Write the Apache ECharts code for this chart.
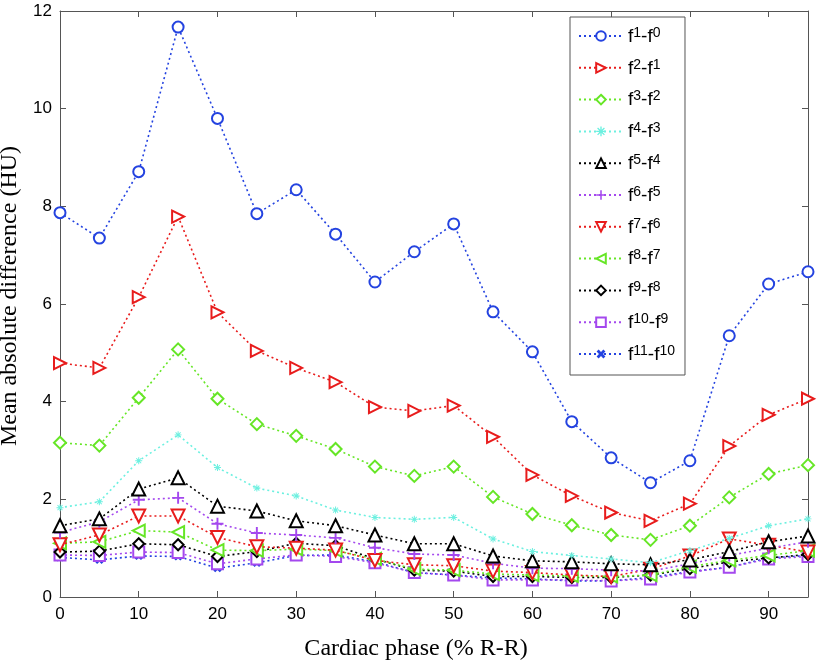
<!DOCTYPE html>
<html><head><meta charset="utf-8">
<script src="https://cdn.jsdelivr.net/npm/echarts@6/dist/echarts.min.js"></script>
<style>html,body{margin:0;padding:0;background:#fff}#c{width:817px;height:667px}</style>
</head><body><div id="c"></div>
<script>
const phases = [0,5,10,15,20,25,30,35,40,45,50,55,60,65,70,75,80,85,90,95];
const d1  = [7.87,7.35,8.71,11.67,9.80,7.85,8.34,7.43,6.45,7.07,7.64,5.84,5.02,3.59,2.85,2.34,2.79,5.35,6.41,6.66];
const d2  = [4.79,4.69,6.14,7.79,5.83,5.04,4.69,4.40,3.89,3.81,3.92,3.28,2.50,2.07,1.73,1.56,1.91,3.09,3.73,4.06];
const d3  = [3.16,3.10,4.08,5.07,4.06,3.54,3.30,3.03,2.67,2.48,2.67,2.05,1.70,1.47,1.27,1.17,1.46,2.04,2.52,2.70];
const d4  = [1.83,1.95,2.79,3.32,2.65,2.23,2.07,1.78,1.63,1.59,1.63,1.19,0.93,0.85,0.78,0.70,0.95,1.20,1.46,1.60];
const d5  = [1.46,1.60,2.21,2.44,1.86,1.76,1.56,1.46,1.27,1.09,1.09,0.84,0.74,0.72,0.68,0.66,0.76,0.93,1.13,1.25];
const d6  = [1.32,1.54,1.99,2.03,1.50,1.31,1.27,1.21,1.01,0.88,0.86,0.69,0.59,0.58,0.55,0.53,0.68,0.85,1.00,1.13];
const d7  = [1.07,1.27,1.66,1.66,1.22,1.03,1.00,0.96,0.75,0.66,0.64,0.53,0.50,0.45,0.42,0.57,0.84,1.19,1.06,0.92];
const d8  = [1.10,1.13,1.36,1.33,0.96,0.95,0.98,0.95,0.78,0.57,0.55,0.47,0.45,0.43,0.42,0.45,0.62,0.75,0.85,0.95];
const d9  = [0.92,0.94,1.09,1.07,0.83,0.93,1.10,1.05,0.78,0.55,0.53,0.42,0.42,0.40,0.40,0.45,0.58,0.72,0.80,0.87];
const d10 = [0.86,0.85,0.92,0.91,0.68,0.78,0.86,0.83,0.70,0.50,0.45,0.35,0.35,0.35,0.33,0.37,0.51,0.61,0.78,0.83];
const d11 = [0.81,0.76,0.84,0.83,0.59,0.70,0.85,0.86,0.72,0.50,0.45,0.39,0.37,0.33,0.33,0.40,0.52,0.61,0.80,0.85];
const names = ['f1-f0','f2-f1','f3-f2','f4-f3','f5-f4','f6-f5','f7-f6','f8-f7','f9-f8','f10-f9','f11-f10'];
const sup = [['1','0'],['2','1'],['3','2'],['4','3'],['5','4'],['6','5'],['7','6'],['8','7'],['9','8'],['10','9'],['11','10']];
const xTicks = [0,10,20,30,40,50,60,70,80,90];

const BLUE='#2443e0', RED='#e81c1c', GREEN='#66e626', CYAN='#6cf0e0', BLACK='#000000', PURPLE='#a448ee';
const plusPath = 'path://M4.2,0H5.8V4.2H10V5.8H5.8V10H4.2V5.8H0V4.2H4.2Z';
const starPath = 'path://M4.3,0H5.7V3.3L8.1,1L9,1.9L6.7,4.3H10V5.7H6.7L9,8.1L8.1,9L5.7,6.7V10H4.3V6.7L1.9,9L1,8.1L3.3,5.7H0V4.3H3.3L1,1.9L1.9,1L4.3,3.3Z';
const bluePath = 'path://M3.5,0H6.5V3.5H10V6.5H6.5V10H3.5V6.5H0V3.5H3.5Z';

const styles = [
  {data:d1, color:BLUE, symbol:'emptyCircle', size:11, rot:0},
  {data:d2, color:RED, symbol:'emptyTriangle', size:12, rot:-90},
  {data:d3, color:GREEN, symbol:'emptyDiamond', size:12, rot:0},
  {data:d4, color:CYAN, symbol:starPath, size:7, rot:0, filled:true},
  {data:d5, color:BLACK, symbol:'emptyTriangle', size:13, rot:0},
  {data:d6, color:PURPLE, symbol:plusPath, size:12, rot:0, filled:true},
  {data:d7, color:RED, symbol:'emptyTriangle', size:13, rot:180},
  {data:d8, color:GREEN, symbol:'emptyTriangle', size:12, rot:90},
  {data:d9, color:BLACK, symbol:'emptyDiamond', size:11, rot:0},
  {data:d10, color:PURPLE, symbol:'emptyRect', size:11, rot:0},
  {data:d11, color:BLUE, symbol:bluePath, size:9, rot:45, filled:true}
];

const series = styles.map((s,i)=>({
  name: names[i],
  type:'line',
  xAxisIndex:0, yAxisIndex:0,
  data: phases.map((p,j)=>[p, s.data[j]]),
  symbol: s.symbol,
  symbolSize: s.size,
  symbolRotate: s.rot,
  showAllSymbol:true,
  lineStyle:{color:s.color, width:1.6, type:[2,3]},
  itemStyle: s.filled ? {color:s.color, borderWidth:0} : {color:s.color, borderColor:s.color, borderWidth:1.7},
  emphasis:{disabled:true},
  z: 20 - i,
  animation:false
}));

const tickFont = {fontFamily:'Liberation Sans, Arial, sans-serif', fontSize:17, color:'#000'};
const chart = echarts.init(document.getElementById('c'), null, {renderer:'canvas'});
chart.setOption({
  animation:false,
  backgroundColor:'#fff',
  grid:{left:60, right:9, top:11, bottom:70, show:false, containLabel:false, outerBoundsMode:'none'},
  legend:{
    orient:'vertical', left:570, top:17,
    data: names,
    itemWidth:44, itemHeight:12, itemGap:9.8,
    padding:[9,10,9,8],
    borderColor:'#555', borderWidth:1, backgroundColor:'#fff',
    selectedMode:false,
    formatter: function(n){ const k = names.indexOf(n); return '{b|f}{s|'+sup[k][0]+'}{b|-f}{s|'+sup[k][1]+'}'; },
    textStyle:{
      fontFamily:'Liberation Sans, Arial, sans-serif', fontSize:19, color:'#000',
      rich:{
        b:{fontFamily:'Liberation Sans, Arial, sans-serif', fontSize:19, color:'#000', verticalAlign:'bottom', lineHeight:20},
        s:{fontFamily:'Liberation Sans, Arial, sans-serif', fontSize:14, color:'#000', verticalAlign:'top', lineHeight:20, padding:[0,0,8,0]}
      }
    }
  },
  xAxis:[{
    type:'value', min:0, max:95, interval:10, position:'bottom',
    name:'Cardiac phase (% R-R)', nameLocation:'middle', nameGap:40,
    nameTextStyle:{fontFamily:'Liberation Serif, Times New Roman, serif', fontSize:24, color:'#000', padding:[0,36,0,0]},
    axisLine:{show:true, lineStyle:{color:'#555', width:1}},
    axisTick:{show:true, inside:true, length:6, lineStyle:{color:'#555'}},
    axisLabel:Object.assign({margin:9, showMaxLabel:false, formatter:v=>xTicks.indexOf(v)>=0?String(v):''}, tickFont),
    splitLine:{show:false}
  },{
    type:'value', min:0, max:95, interval:10, position:'top',
    axisLine:{show:true, onZero:false, lineStyle:{color:'#555', width:1}},
    axisTick:{show:true, inside:true, length:6, lineStyle:{color:'#555'}},
    axisLabel:{show:false}, splitLine:{show:false}
  }],
  yAxis:[{
    type:'value', min:0, max:12, interval:2, position:'left',
    name:'Mean absolute difference (HU)', nameLocation:'middle', nameGap:26,
    nameTextStyle:{fontFamily:'Liberation Serif, Times New Roman, serif', fontSize:24, color:'#000', padding:[0,0,0,16]},
    axisLine:{show:true, lineStyle:{color:'#555', width:1}},
    axisTick:{show:true, inside:true, length:6, lineStyle:{color:'#555'}},
    axisLabel:Object.assign({margin:8}, tickFont),
    splitLine:{show:false}
  },{
    type:'value', min:0, max:12, interval:2, position:'right',
    axisLine:{show:true, onZero:false, lineStyle:{color:'#555', width:1}},
    axisTick:{show:true, inside:true, length:6, lineStyle:{color:'#555'}},
    axisLabel:{show:false}, splitLine:{show:false}
  }],
  series: series
});
</script></body></html>
